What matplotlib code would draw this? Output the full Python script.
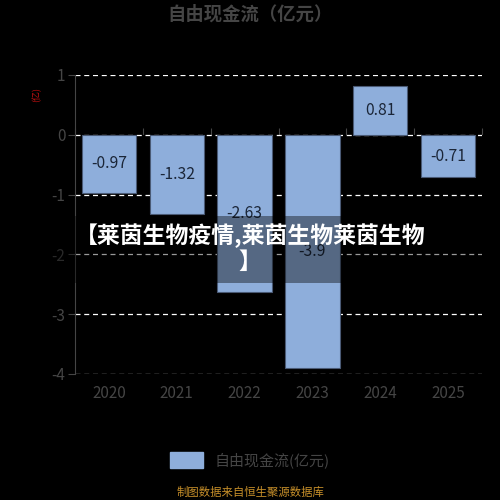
import numpy as np
import matplotlib
matplotlib.use("Agg")
import matplotlib.pyplot as plt
from matplotlib.patches import Rectangle, Patch

plt.rcParams['font.family'] = ['Noto Sans CJK SC', 'DejaVu Sans']

years = ['2020', '2021', '2022', '2023', '2024', '2025']
values = [-0.97, -1.32, -2.63, -3.9, 0.81, -0.71]
labels = ['-0.97', '-1.32', '-2.63', '-3.9', '0.81', '-0.71']
yticks = [1, 0, -1, -2, -3, -4]

bar_color = '#8eaedb'
grey = '#454545'

fig = plt.figure(figsize=(5, 5), dpi=100, facecolor='black')
ax = fig.add_axes([0.15, 0.252, 0.814, 0.598], facecolor='black')

x = np.arange(len(years))
ax.bar(x, values, width=0.8, color=bar_color, edgecolor='#4a5a75', linewidth=0.8, zorder=3)
for xi, v, lab in zip(x, values, labels):
    ax.text(xi, v / 2, lab, ha='center', va='center', fontsize=11.3,
            color='#1b2638', zorder=4)

ax.set_xlim(-0.5, 5.5)
ax.set_ylim(-4, 1)
ax.set_yticks(yticks)
ax.set_yticklabels([str(t) for t in yticks])
ax.set_xticks(x)
ax.set_xticklabels(years)
ax.tick_params(axis='x', length=0, colors=grey, labelsize=11, pad=8)
ax.tick_params(axis='y', length=5, colors=grey, labelsize=11, pad=2)
for t in yticks:
    ax.axhline(t, color='white', linestyle=(0, (4, 3)), linewidth=0.9, zorder=1)
for s in ['top', 'right', 'bottom']:
    ax.spines[s].set_visible(False)
ax.spines['left'].set_color(grey)

# zero line with boundary ticks
sec = ax.secondary_xaxis(0.8)
sec.set_xticks(np.arange(-0.5, 6, 1))
sec.set_xticklabels([])
sec.tick_params(length=5, color=grey)
sec.spines['bottom'].set_color(grey)

fig.text(0.5, 0.972, '自由现金流（亿元）', ha='center', va='center', fontsize=13.2,
         fontweight='bold', color=grey)
fig.text(0.074, 0.81, '(亿)', ha='center', va='center', fontsize=6.5,
         color='#cc1111', rotation=90)

# overlay band with headline
fig.patches.append(Rectangle((0, 0.434), 1, 0.134, transform=fig.transFigure,
                             facecolor='black', alpha=0.4, zorder=5))
fig.text(0.5, 0.503, '【莱茵生物疫情,莱茵生物莱茵生物\n】', ha='center', va='center',
         fontsize=16.5, fontweight='bold', color='white', linespacing=1.15, zorder=6)

fig.legend(handles=[Patch(facecolor=bar_color, edgecolor=bar_color)],
           labels=['自由现金流(亿元)'], loc='center', bbox_to_anchor=(0.5, 0.08),
           frameon=False, fontsize=10.8, labelcolor=grey, handlelength=2.2,
           handleheight=1.2)
fig.text(0.5, 0.016, '制图数据来自恒生聚源数据库', ha='center', va='center',
         fontsize=8.2, color='#c8902a')

fig.savefig('out.png', dpi=100, facecolor='black')
